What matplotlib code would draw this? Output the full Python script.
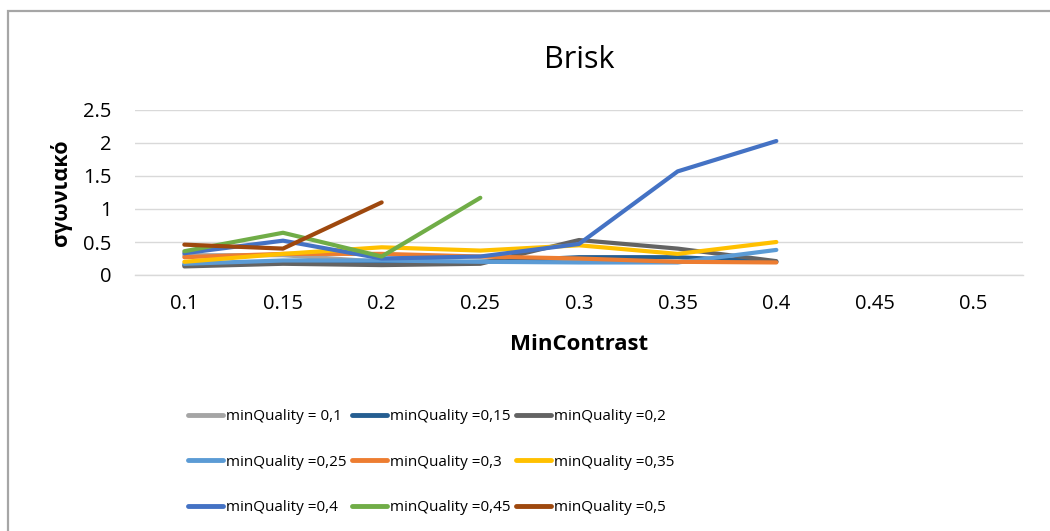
"""Brisk: angular error vs MinContrast for several minQuality settings."""
import numpy as np
import matplotlib
matplotlib.use("Agg")
import matplotlib.pyplot as plt
from matplotlib.patches import Rectangle

# ── data ──────────────────────────────────────────────────────────────────────
MIN_CONTRAST = ["0.1", "0.15", "0.2", "0.25", "0.3", "0.35", "0.4", "0.45", "0.5"]

q_010 = [0.30, 0.30, 0.20, 0.20, 0.20, 0.20, 0.20]
q_015 = [0.15, 0.20, 0.17, 0.20, 0.27, 0.27, 0.20]
q_020 = [0.13, 0.17, 0.15, 0.17, 0.53, 0.40, 0.21]
q_025 = [0.17, 0.22, 0.22, 0.20, 0.19, 0.19, 0.38]
q_030 = [0.27, 0.32, 0.32, 0.28, 0.25, 0.20, 0.19]
q_035 = [0.20, 0.32, 0.42, 0.37, 0.45, 0.32, 0.50]
q_040 = [0.33, 0.52, 0.25, 0.28, 0.47, 1.57, 2.03]
q_045 = [0.36, 0.64, 0.28, 1.17]
q_050 = [0.46, 0.40, 1.10]

SERIES = [
    ("minQuality = 0,1", q_010, "#A5A5A5"),
    ("minQuality =0,15", q_015, "#255E91"),
    ("minQuality =0,2", q_020, "#636363"),
    ("minQuality =0,25", q_025, "#5B9BD5"),
    ("minQuality =0,3", q_030, "#ED7D31"),
    ("minQuality =0,35", q_035, "#FFC000"),
    ("minQuality =0,4", q_040, "#4472C4"),
    ("minQuality =0,45", q_045, "#70AD47"),
    ("minQuality =0,5", q_050, "#9E480E"),
]

Y_TICKS = [0, 0.5, 1, 1.5, 2, 2.5]
Y_TICK_LABELS = ["0", "0.5", "1", "1.5", "2", "2.5"]

GRID = "#D9D9D9"
FONT = ["Open Sans", "DejaVu Sans"]


def main():
    plt.rcParams["font.family"] = FONT
    W, H = 1050, 531
    fig = plt.figure(figsize=(W / 100, H / 100), dpi=100)
    fig.patch.set_facecolor("white")

    # chart-area border (only top + left fall inside the image)
    fig.patches.append(Rectangle((8 / W, -0.2), 1.2, 1.2 - 11 / H,
                                 transform=fig.transFigure, fill=False,
                                 edgecolor="#A6A6A6", lw=1.6, clip_on=False))

    ax = fig.add_axes([135 / W, 1 - 275 / H, (1023 - 135) / W, (275 - 110) / H])
    x = np.arange(len(MIN_CONTRAST))

    handles = []
    for label, vals, color in SERIES:
        (h,) = ax.plot(x[: len(vals)], vals, color=color, lw=3.0,
                       solid_capstyle="round", solid_joinstyle="round",
                       label=label)
        handles.append(h)

    ax.set_xlim(-0.5, len(MIN_CONTRAST) - 0.5)
    ax.set_ylim(0, 2.5)
    ax.set_xticks(x)
    ax.set_xticklabels(MIN_CONTRAST)
    ax.set_yticks(Y_TICKS)
    ax.set_yticklabels(Y_TICK_LABELS)
    ax.tick_params(axis="both", length=0, labelsize=14.5, colors="#000000")
    ax.tick_params(axis="y", pad=17)
    ax.tick_params(axis="x", pad=14)

    ax.grid(axis="y", color=GRID, lw=1.0)
    ax.set_axisbelow(True)
    for side in ("top", "right", "left"):
        ax.spines[side].set_visible(False)
    ax.spines["bottom"].set_color(GRID)
    ax.spines["bottom"].set_linewidth(1.0)

    ax.set_title("Brisk", fontsize=22, pad=30)
    ax.set_xlabel("MinContrast", fontsize=16, fontweight="bold", labelpad=14)
    ax.set_ylabel("σγωνιακό", fontsize=15.5, fontweight="bold", labelpad=8)

    # legend: row-major order in 3 columns
    order = [0, 3, 6, 1, 4, 7, 2, 5, 8]
    leg = fig.legend([handles[i] for i in order],
                     [SERIES[i][0] for i in order],
                     loc="center", bbox_to_anchor=(431 / W, 1 - 462 / H),
                     ncol=3, frameon=False, fontsize=11,
                     handlelength=2.3, handletextpad=0.2,
                     columnspacing=0.35, labelspacing=2.0, borderpad=0)
    for line in leg.get_lines():
        line.set_solid_capstyle("round")
        line.set_linewidth(3.5)

    fig.savefig("out.png", dpi=100)
    plt.close(fig)


if __name__ == "__main__":
    main()
